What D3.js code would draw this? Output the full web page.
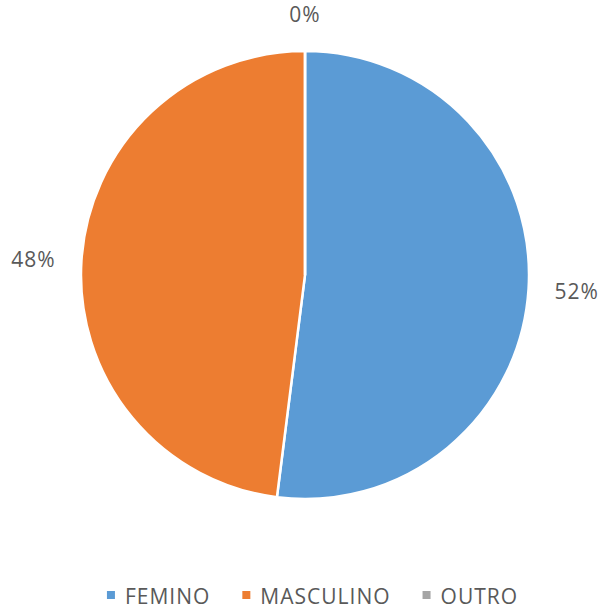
<!DOCTYPE html>
<html>
<head>
<meta charset="utf-8">
<script src="https://cdn.jsdelivr.net/npm/d3@7"></script>
<style>
  html, body { margin: 0; padding: 0; background: #fff; }
  svg { display: block; }
  text { font-family: "Open Sans", "Liberation Sans", sans-serif; fill: #595959; }
</style>
</head>
<body>
<svg id="chart" width="603" height="609"></svg>
<script>
const categories = ["FEMINO", "MASCULINO", "OUTRO"];
const values = [52, 48, 0];
const labels = ["52%", "48%", "0%"];
const colors = ["#5B9BD5", "#ED7D31", "#A5A5A5"];

const svg = d3.select("#chart");
const cx = 305, cy = 275, r = 224;

const color = d3.scaleOrdinal().domain(categories).range(colors);
const pie = d3.pie().sort(null).value(d => d.value);
const data = categories.map((c, i) => ({ cat: c, value: values[i], label: labels[i] }));
const arcs = pie(data);
const arc = d3.arc().innerRadius(0).outerRadius(r);

const g = svg.append("g").attr("transform", `translate(${cx},${cy})`);
g.selectAll("path.slice")
  .data(arcs)
  .join("path")
  .attr("class", "slice")
  .attr("d", arc)
  .attr("fill", d => color(d.data.cat))
  .attr("stroke", "#fff")
  .attr("stroke-width", 2.5);

// data labels outside the pie
const gap = 26;
g.selectAll("text.lbl")
  .data(arcs)
  .join("text")
  .attr("class", "lbl")
  .attr("font-size", 21)
  .attr("letter-spacing", 1)
  .attr("text-anchor", "middle")
  .attr("dominant-baseline", "central")
  .text(d => d.data.label)
  .each(function(d) {
    const a = (d.startAngle + d.endAngle) / 2;
    const bb = this.getBBox();
    const sx = Math.sin(a), sy = -Math.cos(a);
    const x = (r + gap) * sx + (bb.width / 2) * sx;
    const y = (r + gap) * sy + (bb.height / 2 - 3) * sy;
    d3.select(this).attr("x", x).attr("y", y);
  });

// legend
const legY = 595;
const legend = svg.append("g");
const items = legend.selectAll("g.item")
  .data(data)
  .join("g")
  .attr("class", "item");
items.append("rect")
  .attr("width", 8).attr("height", 8)
  .attr("y", -4)
  .attr("fill", d => color(d.cat));
items.append("text")
  .attr("x", 18)
  .attr("y", 1)
  .attr("font-size", 21)
  .attr("letter-spacing", 1)
  .attr("dominant-baseline", "central")
  .text(d => d.cat);
let xPos = 0;
const spacing = 32;
items.each(function() {
  const w = this.getBBox().width;
  d3.select(this).attr("transform", `translate(${xPos},${legY})`);
  xPos += w + spacing;
});
const totalW = xPos - spacing;
legend.attr("transform", `translate(${312.5 - totalW / 2},0)`);
</script>
</body>
</html>
